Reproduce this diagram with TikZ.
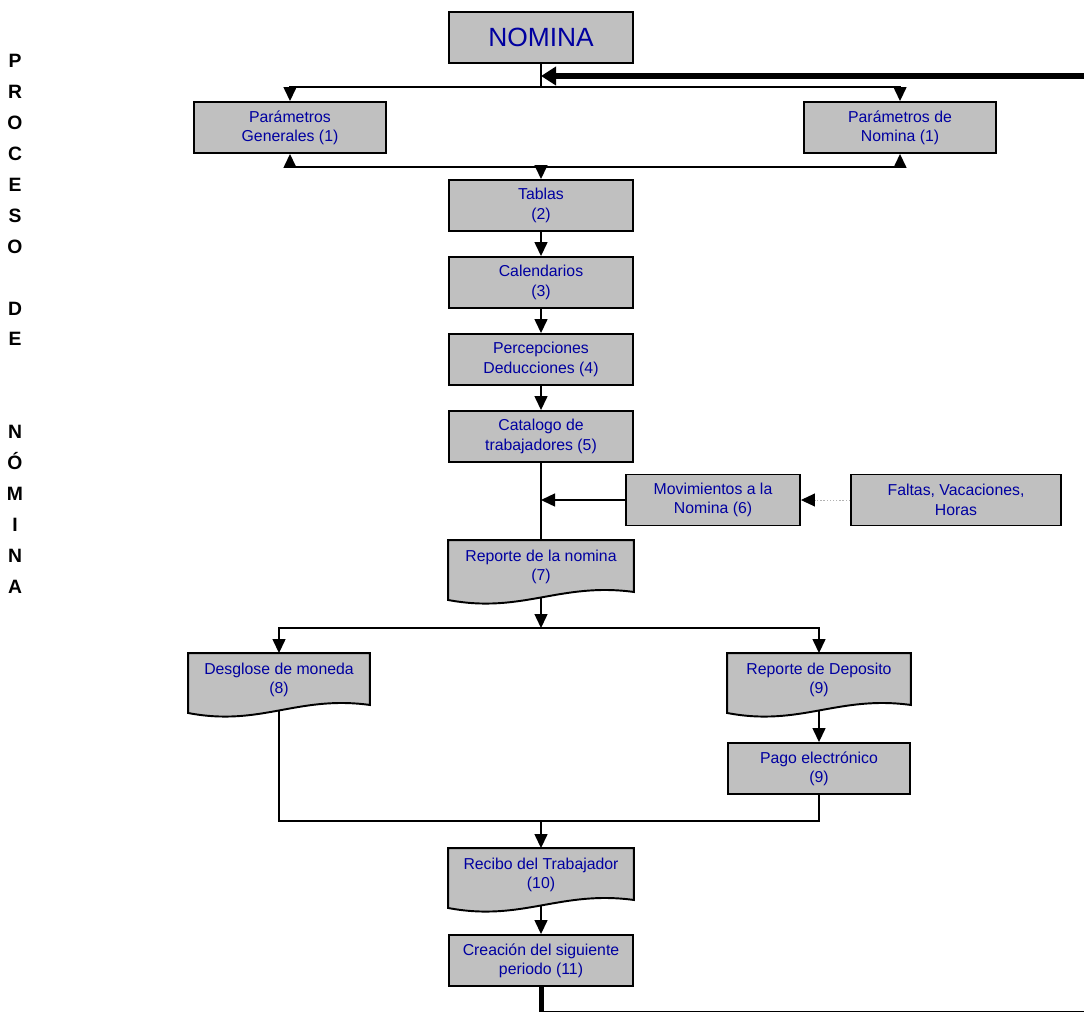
\documentclass[tikz,border=0pt]{standalone}
\usepackage{fontspec}
\setmainfont{Liberation Sans}
\usetikzlibrary{arrows.meta,positioning,calc,backgrounds}
\definecolor{nomblue}{RGB}{0,0,160}
\definecolor{nomgray}{RGB}{192,192,192}

% wavy bottom box (document symbol) behind a named node
\newcommand{\docshape}[1]{%
  \begin{scope}[on background layer]
    \draw[boxline] (#1.north west) -- (#1.north east) -- ($(#1.south east)+(0,-2)$)
      .. controls ($(#1.south west)!0.6!(#1.south east)+(0,-12)$) and ($(#1.south west)!0.4!(#1.south east)+(0,20)$) .. ($(#1.south west)+(0,6)$) -- cycle;
  \end{scope}}

\begin{document}
\begin{tikzpicture}[x=0.02cm, y=-0.02cm,
  boxline/.style={draw, line width=1.1pt, fill=nomgray},
  box/.style={boxline, text=nomblue, font=\fontsize{9}{11}\selectfont, align=center, minimum width=3.68cm, minimum height=1.02cm, inner sep=1pt},
  docbox/.style={box, draw=none, fill=none, minimum height=1.04cm},
  conn/.style={line width=0.8pt},
  flow/.style={conn, -{Triangle[length=0.28cm, width=0.26cm]}},
  loopline/.style={line width=2.85pt, -{Triangle[length=0.3cm, width=0.36cm]}}]
  \useasboundingbox (0,0) rectangle (1084,1011);
  \clip (0,0) rectangle (1084,1011);

  % side title
  \node[font=\bfseries\fontsize{11}{17.6}\selectfont, align=center, inner sep=0pt, anchor=north] (title) at (15,54)
    {P\\R\\O\\C\\E\\S\\O\\~\\D\\E\\~\\~\\N\\Ó\\M\\I\\N\\A};

  % main column
  \node[box, font=\fontsize{15}{18}\selectfont] (nomina) at (541,37.5) {NOMINA};
  \node[box, minimum width=3.84cm] (pgen) at (290,127.5) {Parámetros\\Generales (1)};
  \node[box, minimum width=3.84cm] (pnom) at (900,127.5) {Parámetros de\\Nomina (1)};
  \node[box] (tablas) at (541,205.5) {Tablas\\(2)};
  \node[box] (cal) at (541,282.5) {Calendarios\\(3)};
  \node[box] (perc) at (541,359.5) {Percepciones\\Deducciones (4)};
  \node[box] (cat) at (541,436.5) {Catalogo de\\trabajadores (5)};
  \node[box, minimum width=3.48cm] (mov) at (713,500) {Movimientos a la\\Nomina (6)};
  \node[box, minimum width=4.2cm] (faltas) at (956,500) {Faltas, Vacaciones,\\Horas};
  \node[docbox] (repnom) at (541,567) {Reporte de la nomina\\(7)};
  \docshape{repnom}

  % payment branch
  \node[docbox, minimum width=3.6cm] (desg) at (279,680) {Desglose de moneda\\(8)};
  \docshape{desg}
  \node[docbox, minimum width=3.64cm] (repdep) at (819,680) {Reporte de Deposito\\(9)};
  \docshape{repdep}
  \node[box, minimum width=3.64cm] (pago) at (819,768.5) {Pago electrónico\\(9)};
  \node[docbox] (recibo) at (541,875) {Recibo del Trabajador\\(10)};
  \docshape{recibo}
  \node[box] (crea) at (541,960.5) {Creación del siguiente\\periodo (11)};

  % connectors
  \coordinate (topbus) at (541,87);
  \coordinate (lowbus) at (541,167);
  \coordinate (midbus) at (541,628);
  \coordinate (joinbus) at (541,821);
  \draw[conn] (nomina.south) -- (topbus);
  \draw[flow] (topbus) -| (pgen.north);
  \draw[flow] (topbus) -| (pnom.north);
  \draw[flow] (lowbus) -| (pgen.south);
  \draw[flow] (lowbus) -| (pnom.south);
  \draw[flow] (lowbus) -- (tablas.north);
  \draw[flow] (tablas) -- (cal);
  \draw[flow] (cal) -- (perc);
  \draw[flow] (perc) -- (cat);
  \draw[conn] (cat.south) -- (repnom.north);
  \draw[flow] (mov.west) -- (mov.west -| cat.south);
  \draw[conn, gray!60, densely dotted, line width=0.5pt, -{Triangle[length=0.28cm, width=0.26cm, color=black]}] (faltas.west) -- (mov.east);
  \draw[flow] ($(repnom.south)+(0,4)$) -- (midbus);
  \draw[flow] (midbus) -| (desg.north);
  \draw[flow] (midbus) -| (repdep.north);
  \draw[flow] ($(repdep.south)+(0,4)$) -- (pago.north);
  \draw[conn] ($(desg.south)+(0,4)$) |- (joinbus) -| (pago.south);
  \draw[flow] (joinbus) -- (recibo.north);
  \draw[flow] ($(recibo.south)+(0,4)$) -- (crea.north);

  % back to the start
  \coordinate (loopbr) at (1100,1013.5);
  \coordinate (looptr) at (1100,76);
  \draw[loopline] (crea.south) |- (loopbr) -- (looptr) -- (looptr -| nomina.south);
\end{tikzpicture}
\end{document}
